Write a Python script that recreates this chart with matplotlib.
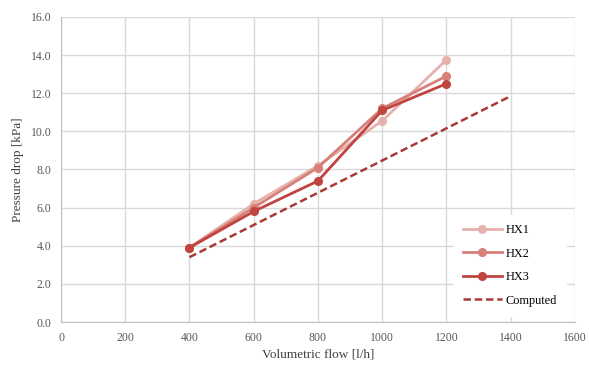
import matplotlib
matplotlib.use("Agg")
import matplotlib.pyplot as plt

flow = [400, 600, 800, 1000, 1200]
hx1 = [3.9, 6.2, 8.2, 10.55, 13.75]
hx2 = [3.9, 6.0, 8.1, 11.2, 12.9]
hx3 = [3.9, 5.8, 7.4, 11.1, 12.5]
flow_comp = [400, 600, 800, 1000, 1200, 1400]
computed = [3.4, 5.09, 6.78, 8.47, 10.16, 11.85]

plt.rcParams['font.family'] = ['Liberation Serif', 'DejaVu Serif']

fig = plt.figure(figsize=(5.89, 3.67), dpi=100)
ax = fig.add_axes([0.1036, 0.1226, 0.8724, 0.8311])

ax.plot(flow, hx1, color='#e6b1ad', marker='o', ms=5.5, lw=2, label='HX1', zorder=3)
ax.plot(flow, hx2, color='#d77f78', marker='o', ms=5.5, lw=2, label='HX2', zorder=3)
ax.plot(flow, hx3, color='#c0443f', marker='o', ms=5.5, lw=2, label='HX3', zorder=4)
ax.plot(flow_comp, computed, color='#a83a36', ls=(0, (3, 1.5)), lw=1.8, label='Computed', zorder=3)

ax.set_xlim(0, 1600)
ax.set_ylim(0, 16)
ax.set_xticks(range(0, 1601, 200))
ax.set_yticks([i * 2 for i in range(9)])
ax.set_yticklabels([f"{i*2:.1f}" for i in range(9)])
ax.grid(True, color='#d9d9d9', lw=1)
ax.set_axisbelow(True)
for s in ['top', 'right']:
    ax.spines[s].set_visible(False)
for s in ['left', 'bottom']:
    ax.spines[s].set_color('#bfbfbf')
ax.tick_params(length=0, labelsize=8.5, colors='#595959')
ax.tick_params(axis='x', pad=7.5)
ax.tick_params(axis='y', pad=7)
ax.set_xlabel('Volumetric flow [l/h]', fontsize=9.5, color='#404040', labelpad=3)
ax.set_ylabel('Pressure drop [kPa]', fontsize=9.5, color='#404040', labelpad=5)

leg = ax.legend(loc='lower right', bbox_to_anchor=(0.995, 0.0), frameon=True, fontsize=8.8,
                handlelength=3.2, labelspacing=0.95, borderpad=0.75, handletextpad=0.3)
leg.get_frame().set_facecolor('white')
leg.get_frame().set_edgecolor('white')
leg.get_frame().set_alpha(1)
leg.get_frame().set_boxstyle('square', pad=0)

fig.savefig('out.png', dpi=100)
